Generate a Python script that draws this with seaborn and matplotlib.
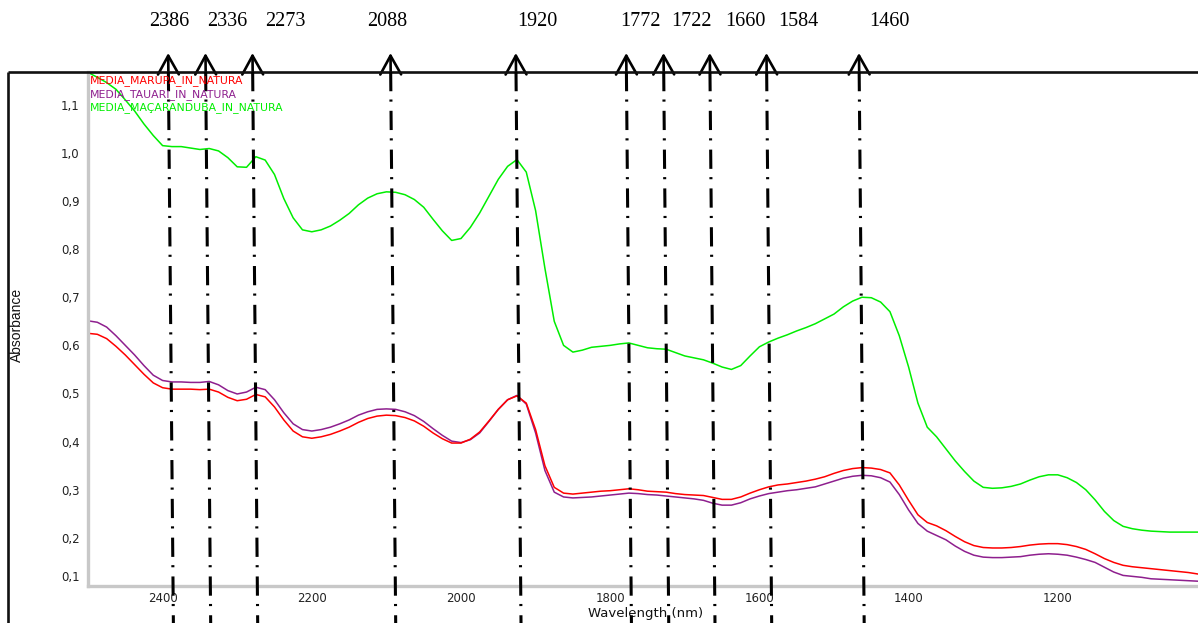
import matplotlib
matplotlib.use("Agg")
import matplotlib.pyplot as plt
import pandas as pd
import seaborn as sns
from matplotlib.patches import FancyArrowPatch
from matplotlib.ticker import MultipleLocator, FuncFormatter

# ---- spectra (mean absorbance per wood species) ----
wavelength_nm = [
    2500, 2487.5, 2475, 2462.5, 2450, 2437.5, 2425, 2412.5, 2400, 2387.5,
    2375, 2362.5, 2350, 2337.5, 2325, 2312.5, 2300, 2287.5, 2275, 2262.5,
    2250, 2237.5, 2225, 2212.5, 2200, 2187.5, 2175, 2162.5, 2150, 2137.5,
    2125, 2112.5, 2100, 2087.5, 2075, 2062.5, 2050, 2037.5, 2025, 2012.5,
    2000, 1987.5, 1975, 1962.5, 1950, 1937.5, 1925, 1912.5, 1900, 1887.5,
    1875, 1862.5, 1850, 1837.5, 1825, 1812.5, 1800, 1787.5, 1775, 1762.5,
    1750, 1737.5, 1725, 1712.5, 1700, 1687.5, 1675, 1662.5, 1650, 1637.5,
    1625, 1612.5, 1600, 1587.5, 1575, 1562.5, 1550, 1537.5, 1525, 1512.5,
    1500, 1487.5, 1475, 1462.5, 1450, 1437.5, 1425, 1412.5, 1400, 1387.5,
    1375, 1362.5, 1350, 1337.5, 1325, 1312.5, 1300, 1287.5, 1275, 1262.5,
    1250, 1237.5, 1225, 1212.5, 1200, 1187.5, 1175, 1162.5, 1150, 1137.5,
    1125, 1112.5, 1100, 1087.5, 1075, 1062.5, 1050, 1037.5, 1025, 1012.5,
    1000]

marupa = [
    0.625, 0.623, 0.614, 0.598, 0.580, 0.560, 0.540, 0.522, 0.512, 0.509,
    0.509, 0.509, 0.508, 0.509, 0.503, 0.492, 0.485, 0.488, 0.498, 0.493,
    0.472, 0.445, 0.422, 0.410, 0.407, 0.410, 0.415, 0.422, 0.430, 0.440,
    0.448, 0.453, 0.455, 0.454, 0.450, 0.443, 0.432, 0.418, 0.406, 0.397,
    0.397, 0.405, 0.420, 0.443, 0.467, 0.487, 0.495, 0.480, 0.425, 0.350,
    0.305, 0.293, 0.291, 0.293, 0.295, 0.297, 0.298, 0.300, 0.302, 0.300,
    0.297, 0.296, 0.295, 0.292, 0.290, 0.289, 0.288, 0.284, 0.280, 0.280,
    0.285, 0.293, 0.300, 0.306, 0.310, 0.312, 0.315, 0.318, 0.322, 0.327,
    0.334, 0.340, 0.344, 0.346, 0.345, 0.342, 0.335, 0.310, 0.278, 0.248,
    0.232, 0.225, 0.215, 0.203, 0.192, 0.184, 0.180, 0.179, 0.179, 0.180,
    0.182, 0.185, 0.187, 0.188, 0.188, 0.186, 0.182, 0.176, 0.167, 0.157,
    0.149, 0.143, 0.140, 0.138, 0.136, 0.134, 0.132, 0.130, 0.128, 0.125,
    0.124]

tauari = [
    0.651, 0.648, 0.638, 0.620, 0.600, 0.580, 0.558, 0.538, 0.527, 0.524,
    0.524, 0.523, 0.523, 0.525, 0.518, 0.506, 0.499, 0.503, 0.513, 0.508,
    0.487, 0.460, 0.437, 0.425, 0.422, 0.425, 0.430, 0.437, 0.445, 0.455,
    0.462, 0.467, 0.468, 0.467, 0.462, 0.454, 0.442, 0.427, 0.413, 0.401,
    0.398, 0.404, 0.418, 0.442, 0.467, 0.487, 0.496, 0.478, 0.418, 0.340,
    0.295, 0.285, 0.283, 0.284, 0.285, 0.287, 0.289, 0.291, 0.293, 0.292,
    0.290, 0.289, 0.287, 0.285, 0.283, 0.281, 0.278, 0.272, 0.268, 0.268,
    0.273, 0.281, 0.287, 0.292, 0.295, 0.298, 0.300, 0.303, 0.306, 0.312,
    0.318, 0.324, 0.328, 0.330, 0.329, 0.325, 0.316, 0.290, 0.258, 0.230,
    0.214, 0.205, 0.196, 0.183, 0.172, 0.164, 0.160, 0.159, 0.159, 0.160,
    0.161, 0.164, 0.166, 0.167, 0.166, 0.164, 0.160, 0.155, 0.149, 0.139,
    0.129, 0.122, 0.120, 0.118, 0.115, 0.114, 0.113, 0.112, 0.111, 0.110,
    0.110]

macaranduba = [
    1.167, 1.157, 1.146, 1.132, 1.110, 1.087, 1.060, 1.036, 1.015, 1.013,
    1.013, 1.010, 1.007, 1.009, 1.004, 0.990, 0.971, 0.970, 0.992, 0.985,
    0.955, 0.905, 0.865, 0.840, 0.836, 0.840, 0.848, 0.860, 0.874, 0.892,
    0.906, 0.915, 0.919, 0.918, 0.913, 0.903, 0.887, 0.862, 0.838, 0.818,
    0.822, 0.845, 0.875, 0.910, 0.945, 0.972, 0.986, 0.960, 0.880, 0.760,
    0.650, 0.600, 0.586, 0.590, 0.596, 0.598, 0.600, 0.603, 0.605, 0.600,
    0.595, 0.593, 0.592, 0.585, 0.578, 0.574, 0.570, 0.563, 0.555, 0.550,
    0.558, 0.578, 0.597, 0.607, 0.615, 0.622, 0.630, 0.637, 0.645, 0.655,
    0.665, 0.680, 0.692, 0.700, 0.699, 0.690, 0.670, 0.620, 0.555, 0.480,
    0.430, 0.410, 0.385, 0.360, 0.338, 0.318, 0.305, 0.303, 0.304, 0.307,
    0.312, 0.320, 0.327, 0.331, 0.331, 0.325, 0.315, 0.300, 0.279, 0.255,
    0.236, 0.224, 0.219, 0.216, 0.214, 0.213, 0.212, 0.212, 0.212, 0.212,
    0.212]

series_names = ["MEDIA_MARUPA_IN_NATURA", "MEDIA_TAUARI_IN_NATURA",
                "MEDIA_MAÇARANDUBA_IN_NATURA"]

# marked absorption bands (nm)
band_nm = [2386, 2336, 2273, 2088, 1920, 1772, 1722, 1660, 1584, 1460]

x_ticks = [2400, 2200, 2000, 1800, 1600, 1400, 1200]
y_ticks = [0.1, 0.2, 0.3, 0.4, 0.5, 0.6, 0.7, 0.8, 0.9, 1.0, 1.1]

# ---- styling ----
colors = {"MEDIA_MARUPA_IN_NATURA": "#ff0000",
          "MEDIA_TAUARI_IN_NATURA": "#8e1f8e",
          "MEDIA_MAÇARANDUBA_IN_NATURA": "#00ee00"}
band_label_nudge_px = [1, 22, 33, -3, 21, 14, 28, 35, 32, 30]

W, H = 1198, 623
sns.set_style("white")
plt.rcParams["font.family"] = ["DejaVu Sans"]

fig = plt.figure(figsize=(W / 100, H / 100), dpi=100)
fig.patch.set_facecolor("white")

# plot area (right end runs slightly past the canvas)
ax_left, ax_right, ax_top, ax_bottom = 88, 1207, 72, 586
ax = fig.add_axes([ax_left / W, (H - ax_bottom) / H,
                   (ax_right - ax_left) / W, (ax_bottom - ax_top) / H])
ax.set_facecolor("white")

df = pd.concat([
    pd.DataFrame({"wavelength": wavelength_nm, "absorbance": vals, "sample": name})
    for name, vals in [("MEDIA_TAUARI_IN_NATURA", tauari),
                       ("MEDIA_MARUPA_IN_NATURA", marupa),
                       ("MEDIA_MAÇARANDUBA_IN_NATURA", macaranduba)]
], ignore_index=True)

sns.lineplot(data=df, x="wavelength", y="absorbance", hue="sample",
             palette=colors, estimator=None, linewidth=1.1, legend=False, ax=ax)

ax.set_xlim(2500, 1000)
ax.set_ylim(0.1, 1.168)
ax.set_xlabel("")
ax.set_ylabel("")

for side in ("top", "right"):
    ax.spines[side].set_visible(False)
for side in ("left", "bottom"):
    ax.spines[side].set_color("#c8c8c8")
    ax.spines[side].set_linewidth(2.4)

ax.set_xticks(x_ticks)
ax.xaxis.set_minor_locator(MultipleLocator(50))
ax.tick_params(axis="x", which="major", direction="in", length=3, width=1,
               colors="#222222", labelsize=8.5, pad=4)
ax.tick_params(axis="x", which="minor", direction="in", length=1.5, width=1,
               colors="#222222")

ax.set_yticks(y_ticks)
ax.yaxis.set_minor_locator(MultipleLocator(0.02))
ax.yaxis.set_major_formatter(FuncFormatter(
    lambda v, _: "" if abs(v - 0.1) < 1e-9 else f"{v:.1f}".replace(".", ",")))
ax.tick_params(axis="y", which="major", direction="out", length=3, width=1,
               colors="#222222", labelsize=8.5, pad=3)
ax.tick_params(axis="y", which="minor", direction="in", length=1.5, width=1,
               colors="#222222")
# lowest tick label sits just above the axis corner
ax.annotate("0,1", xy=(0, 0.1), xycoords=("axes fraction", "data"),
            xytext=(-6, 6), textcoords="offset points",
            ha="right", va="center", fontsize=8.5, color="#222222")

fig.text(17 / W, 1 - 325 / H, "Absorbance", rotation=90, ha="center", va="center",
         fontsize=10, color="#111111",
         family=["Liberation Sans Narrow", "Liberation Sans", "DejaVu Sans"])
fig.text(646 / W, 1 - 614 / H, "Wavelength (nm)", ha="center", va="center",
         fontsize=9.5, color="#111111")

# ---- overlay: frame, band markers, arrows and band labels (pixel coords) ----
ov = fig.add_axes([0, 0, 1, 1], zorder=5)
ov.set_xlim(0, W)
ov.set_ylim(H, 0)
ov.axis("off")
ov.patch.set_alpha(0)

frame_kw = dict(color="#111111", lw=1.9, solid_capstyle="butt")
ov.plot([8, W], [72, 72], **frame_kw)
ov.plot([8, 8], [72, H], **frame_kw)

slope = 0.0091  # slight lean of the marker lines
for wl, nudge in zip(band_nm, band_label_nudge_px):
    xb = ax.transData.transform((wl, 0.5))[0]
    x_top = xb - slope * (ax_bottom - 72)
    x_bot = xb + slope * (H - ax_bottom)
    ov.plot([x_top, x_bot], [72, H], color="black", lw=2.2,
            linestyle=(0, (6.3, 2.7, 0.7, 3.0)), dash_capstyle="butt")
    ov.add_patch(FancyArrowPatch((x_top, 72), (x_top - 0.17, 53),
                                 arrowstyle="->,head_length=0.9,head_width=0.5",
                                 mutation_scale=15, lw=1.9, color="black",
                                 shrinkA=0, shrinkB=0))
    ov.text(x_top + nudge, 22, str(wl), ha="center", va="center",
            family=["Liberation Serif", "DejaVu Serif"], fontsize=14.5, color="black")

for i, name in enumerate(series_names):
    ov.text(90, 81 + i * 13.5, name, color=colors[name], fontsize=7.8,
            ha="left", va="center")

fig.savefig("out.png", dpi=100, facecolor="white")
